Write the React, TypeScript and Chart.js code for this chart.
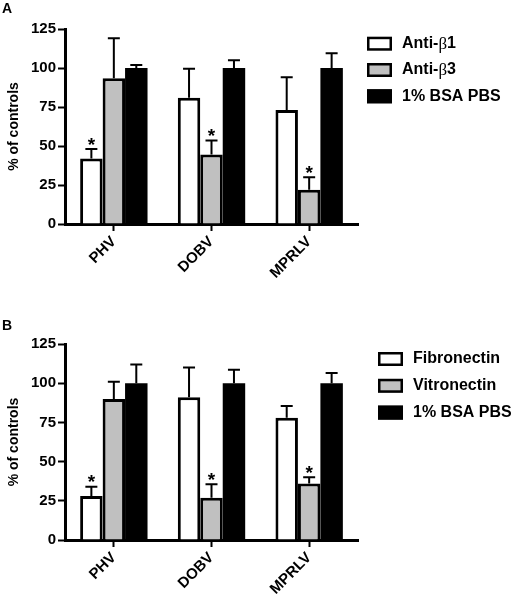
import React, { useEffect, useRef } from 'react';
import { Chart, registerables } from 'chart.js';

Chart.register(...registerables);

const categories = ['PHV', 'DOBV', 'MPRLV'];
const yMin = 0;
const yMax = 125;
const yStep = 25;

// Panel A
const antiB1 = [42, 81, 73];
const antiB1Err = [6, 18.5, 21];
const antiB3 = [93.5, 44.5, 22];
const antiB3Err = [25.5, 9, 8];
const bsaA = [100, 100, 100];
const bsaAErr = [2, 5, 9.5];
const starsA = [[0, 0], [1, 1], [1, 2]]; // [dataset, category]

// Panel B
const fibronectin = [28, 91, 78];
const fibronectinErr = [6, 19, 7.5];
const vitronectin = [90, 27, 36];
const vitronectinErr = [11, 8.5, 4];
const bsaB = [100, 100, 100];
const bsaBErr = [12, 8.5, 6.5];
const starsB = [[0, 0], [1, 1], [1, 2]];

const legendA = [['Anti-', 'β', '1'], ['Anti-', 'β', '3'], ['1% BSA PBS', '', '']];
const legendB = [['Fibronectin', '', ''], ['Vitronectin', '', ''], ['1% BSA PBS', '', '']];

const FILLS = ['#ffffff', '#c0c0c0', '#000000'];
const BORDERS = [3, 3, 0];
const SANS = '"Liberation Sans", Arial, Helvetica, sans-serif';
const SERIF = '"Liberation Serif", "DejaVu Serif", serif';

type PanelProps = {
  letter: string;
  height: number;
  padTop: number;
  xAxisHeight: number;
  values: number[][];
  errors: number[][];
  stars: number[][];
  legend: string[][];
  legendX: number;
  legendY0: number;
  legendDY: number;
  letterY: number;
};

function Panel(p: PanelProps) {
  const ref = useRef<HTMLCanvasElement | null>(null);
  useEffect(() => {
    if (!ref.current) return;
    const overlay = {
      id: 'overlay',
      afterDatasetsDraw(chart: any) {
        const ctx = chart.ctx;
        const ys = chart.scales.y;
        ctx.save();
        // error bars
        p.values.forEach((vals, di) => {
          const meta = chart.getDatasetMeta(di);
          meta.data.forEach((el: any, ci: number) => {
            const top = ys.getPixelForValue(vals[ci] + p.errors[di][ci]);
            ctx.strokeStyle = '#000';
            ctx.lineWidth = 2;
            ctx.beginPath();
            ctx.moveTo(el.x, el.y);
            ctx.lineTo(el.x, top);
            ctx.moveTo(el.x - 6, top);
            ctx.lineTo(el.x + 6, top);
            ctx.stroke();
          });
        });
        // asterisks
        ctx.fillStyle = '#000';
        ctx.font = `bold 19px ${SANS}`;
        ctx.textAlign = 'center';
        ctx.textBaseline = 'alphabetic';
        p.stars.forEach(([di, ci]) => {
          const el: any = chart.getDatasetMeta(di).data[ci];
          const top = ys.getPixelForValue(p.values[di][ci] + p.errors[di][ci]);
          ctx.fillText('*', el.x, top + 1.5);
        });
        // panel letter
        ctx.textAlign = 'left';
        ctx.font = `bold 14px ${SANS}`;
        ctx.fillText(p.letter, 2, p.letterY);
        // legend
        p.legend.forEach((parts, i) => {
          const cy = p.legendY0 + i * p.legendDY;
          ctx.fillStyle = FILLS[i];
          ctx.fillRect(p.legendX, cy - 7, 25, 14);
          ctx.strokeStyle = '#000';
          ctx.lineWidth = 2.5;
          ctx.strokeRect(p.legendX + 1.25, cy - 5.75, 22.5, 11.5);
          ctx.fillStyle = '#000';
          ctx.textBaseline = 'middle';
          let x = p.legendX + 35;
          ctx.font = `bold 16px ${SANS}`;
          ctx.fillText(parts[0], x, cy);
          x += ctx.measureText(parts[0]).width;
          if (parts[1]) {
            ctx.font = `17px ${SERIF}`;
            ctx.fillText(parts[1], x, cy + 1);
            x += ctx.measureText(parts[1]).width;
          }
          if (parts[2]) {
            ctx.font = `bold 16px ${SANS}`;
            ctx.fillText(parts[2], x, cy);
          }
        });
        ctx.restore();
      },
    };
    const chart = new Chart(ref.current, {
      type: 'bar',
      data: {
        labels: categories,
        datasets: p.values.map((vals, i) => ({
          label: p.legend[i].join(''),
          data: vals,
          backgroundColor: FILLS[i],
          borderColor: '#000',
          borderWidth: BORDERS[i],
          categoryPercentage: 0.69,
          barPercentage: 1,
        })),
      },
      options: {
        responsive: false,
        animation: false,
        events: [],
        layout: { padding: { top: p.padTop, right: 153, left: 0, bottom: 0 } },
        plugins: { legend: { display: false }, tooltip: { enabled: false } },
        scales: {
          x: {
            offset: true,
            afterFit: (s: any) => { s.height = p.xAxisHeight; },
            grid: {
              offset: false,
              drawOnChartArea: false,
              drawTicks: true,
              tickLength: 7,
              color: '#000',
              tickWidth: 2,
            },
            border: { display: true, color: '#000', width: 3 },
            ticks: {
              maxRotation: 45,
              minRotation: 45,
              color: '#000',
              padding: 2,
              font: { family: SANS, size: 15, weight: 'bold' },
            },
          },
          y: {
            min: yMin,
            max: yMax,
            afterFit: (s: any) => { s.width = 65; },
            grid: {
              drawOnChartArea: false,
              drawTicks: true,
              tickLength: 7,
              color: '#000',
              tickWidth: 2,
            },
            border: { display: true, color: '#000', width: 3 },
            ticks: {
              stepSize: yStep,
              color: '#000',
              padding: 2,
              font: { family: SANS, size: 15, weight: 'bold' },
            },
            title: {
              display: true,
              text: '% of controls',
              color: '#000',
              padding: { top: 6, bottom: 0 },
              font: { family: SANS, size: 14, weight: 'bold' },
            },
          },
        },
      },
      plugins: [overlay],
    } as any);
    return () => chart.destroy();
  }, []);
  return <canvas ref={ref} width={511} height={p.height} style={{ display: 'block' }} />;
}

export default function App() {
  return (
    <div style={{ position: 'absolute', left: 0, top: 0, width: 511, height: 599, background: '#fff' }}>
      <Panel
        letter="A"
        height={300}
        padTop={29}
        xAxisHeight={76}
        values={[antiB1, antiB3, bsaA]}
        errors={[antiB1Err, antiB3Err, bsaAErr]}
        stars={starsA}
        legend={legendA}
        legendX={367}
        legendY0={43.7}
        legendDY={26.3}
        letterY={13}
      />
      <Panel
        letter="B"
        height={299}
        padTop={44}
        xAxisHeight={59}
        values={[fibronectin, vitronectin, bsaB]}
        errors={[fibronectinErr, vitronectinErr, bsaBErr]}
        stars={starsB}
        legend={legendB}
        legendX={378}
        legendY0={59}
        legendDY={26.8}
        letterY={30}
      />
    </div>
  );
}
